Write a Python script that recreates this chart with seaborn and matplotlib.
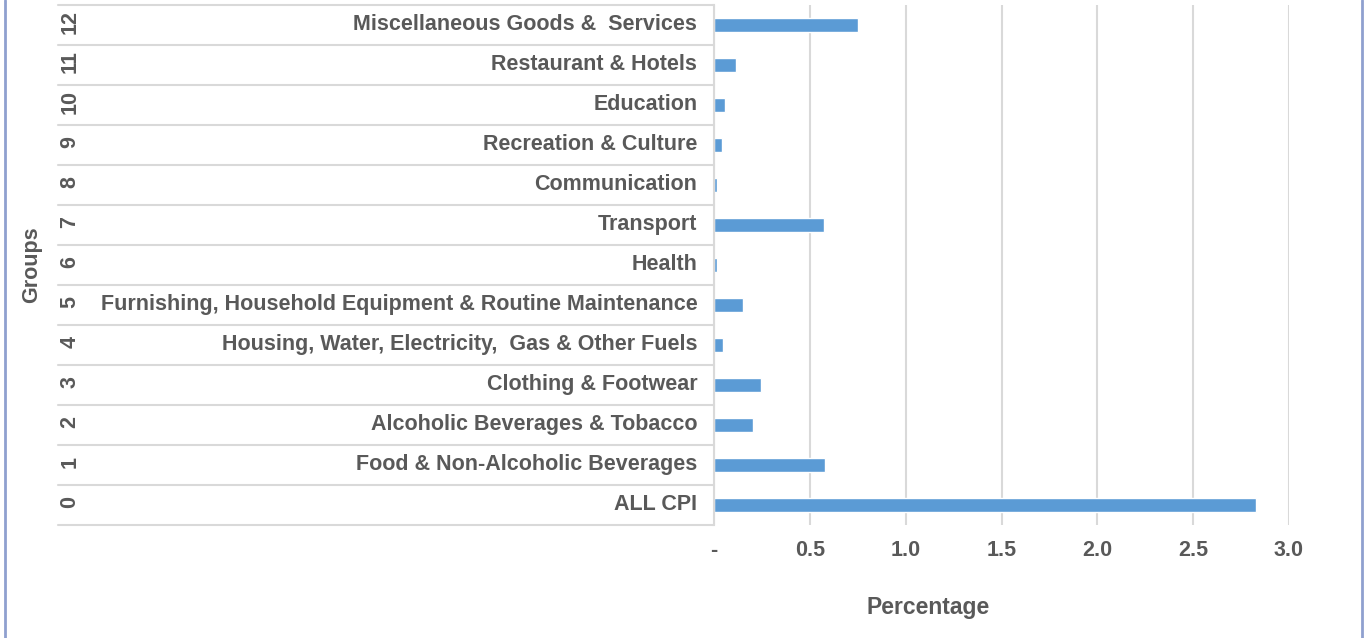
import numpy as np
import pandas as pd
import seaborn as sns
import matplotlib.pyplot as plt
from matplotlib.lines import Line2D
import matplotlib.transforms as mtransforms

# dados (grupo 0 = ALL CPI)
grupos = [0, 1, 2, 3, 4, 5, 6, 7, 8, 9, 10, 11, 12]
nomes = [
    "ALL CPI",
    "Food & Non-Alcoholic Beverages",
    "Alcoholic Beverages & Tobacco",
    "Clothing & Footwear",
    "Housing, Water, Electricity,  Gas & Other Fuels",
    "Furnishing, Household Equipment & Routine Maintenance",
    "Health",
    "Transport",
    "Communication",
    "Recreation & Culture",
    "Education",
    "Restaurant & Hotels",
    "Miscellaneous Goods &  Services",
]
percentagem = [2.83, 0.578, 0.205, 0.245, 0.045, 0.149, 0.017, 0.575, 0.017, 0.04, 0.056, 0.113, 0.75]
x_ticks = [0, 0.5, 1.0, 1.5, 2.0, 2.5, 3.0]
x_tick_labels = ["-", "0.5", "1.0", "1.5", "2.0", "2.5", "3.0"]

df = pd.DataFrame({"Grupo": grupos, "Nome": nomes, "Percentage": percentagem})
ordem = nomes[::-1]  # grupo 12 no topo

sns.set_style("white")
plt.rcParams['font.family'] = ['Liberation Sans', 'DejaVu Sans']
cinza = "#595959"
linha = "#D9D9D9"
fs = 15.5

W, H = 1364, 638
fig = plt.figure(figsize=(W / 100, H / 100), dpi=100)
x0, x1, y0, y1 = 714, 1289, 5, 525
ax = fig.add_axes([x0 / W, 1 - y1 / H, (x1 - x0) / W, (y1 - y0) / H])

sns.barplot(data=df, x="Percentage", y="Nome", order=ordem, color="#5B9BD5",
            width=0.37, orient="h", ax=ax, saturation=1)

ax.set_xlim(0, 3.0)
ax.set_ylim(len(nomes) - 0.5, -0.5)
ax.set_xticks(x_ticks)
ax.set_xticklabels(x_tick_labels)
ax.grid(axis="x", color=linha, linewidth=1.5)
ax.set_axisbelow(True)
for s in ["top", "right", "bottom"]:
    ax.spines[s].set_visible(False)
ax.spines["left"].set_color(linha)
ax.spines["left"].set_linewidth(1.5)

ax.tick_params(axis="both", length=0, labelcolor=cinza, labelsize=fs)
ax.tick_params(axis="x", pad=11)
ax.tick_params(axis="y", pad=12)
subir = mtransforms.ScaledTranslation(0, 3 / 100, fig.dpi_scale_trans)
for t in ax.get_xticklabels() + ax.get_yticklabels():
    t.set_fontweight("bold")
for t in ax.get_yticklabels():
    t.set_transform(t.get_transform() + subir)

# coluna de numeros dos grupos + linhas separadoras
trans = mtransforms.blended_transform_factory(ax.transAxes, ax.transData)
x_sep = (58 - x0) / (x1 - x0)
x_num = (70 - x0) / (x1 - x0)
for i, nome in enumerate(ordem):
    g = df.loc[df["Nome"] == nome, "Grupo"].iloc[0]
    ax.text(x_num, i, str(g), transform=trans + subir, rotation=90, ha="center", va="center",
            fontsize=fs, fontweight="bold", color=cinza)
for b in np.arange(-0.5, len(nomes), 1.0):
    ax.add_line(Line2D([x_sep, 0], [b, b], transform=trans, color=linha,
                       linewidth=1.5, clip_on=False))

ax.set_xlabel("Percentage", fontsize=16.5, fontweight="bold", color=cinza)
ax.xaxis.set_label_coords((928 - x0) / (x1 - x0), (y1 - 596) / (y1 - y0))
ax.set_ylabel("Groups", fontsize=fs, fontweight="bold", color=cinza)
ax.yaxis.set_label_coords((32 - x0) / (x1 - x0), 0.5)
ax.yaxis.label.set_va("center")

# moldura lateral
for xb in [5 / W, 1362 / W]:
    fig.add_artist(Line2D([xb, xb], [0, 1], transform=fig.transFigure,
                          color="#8FA0CF", linewidth=2))

plt.savefig("out.png", dpi=100)
